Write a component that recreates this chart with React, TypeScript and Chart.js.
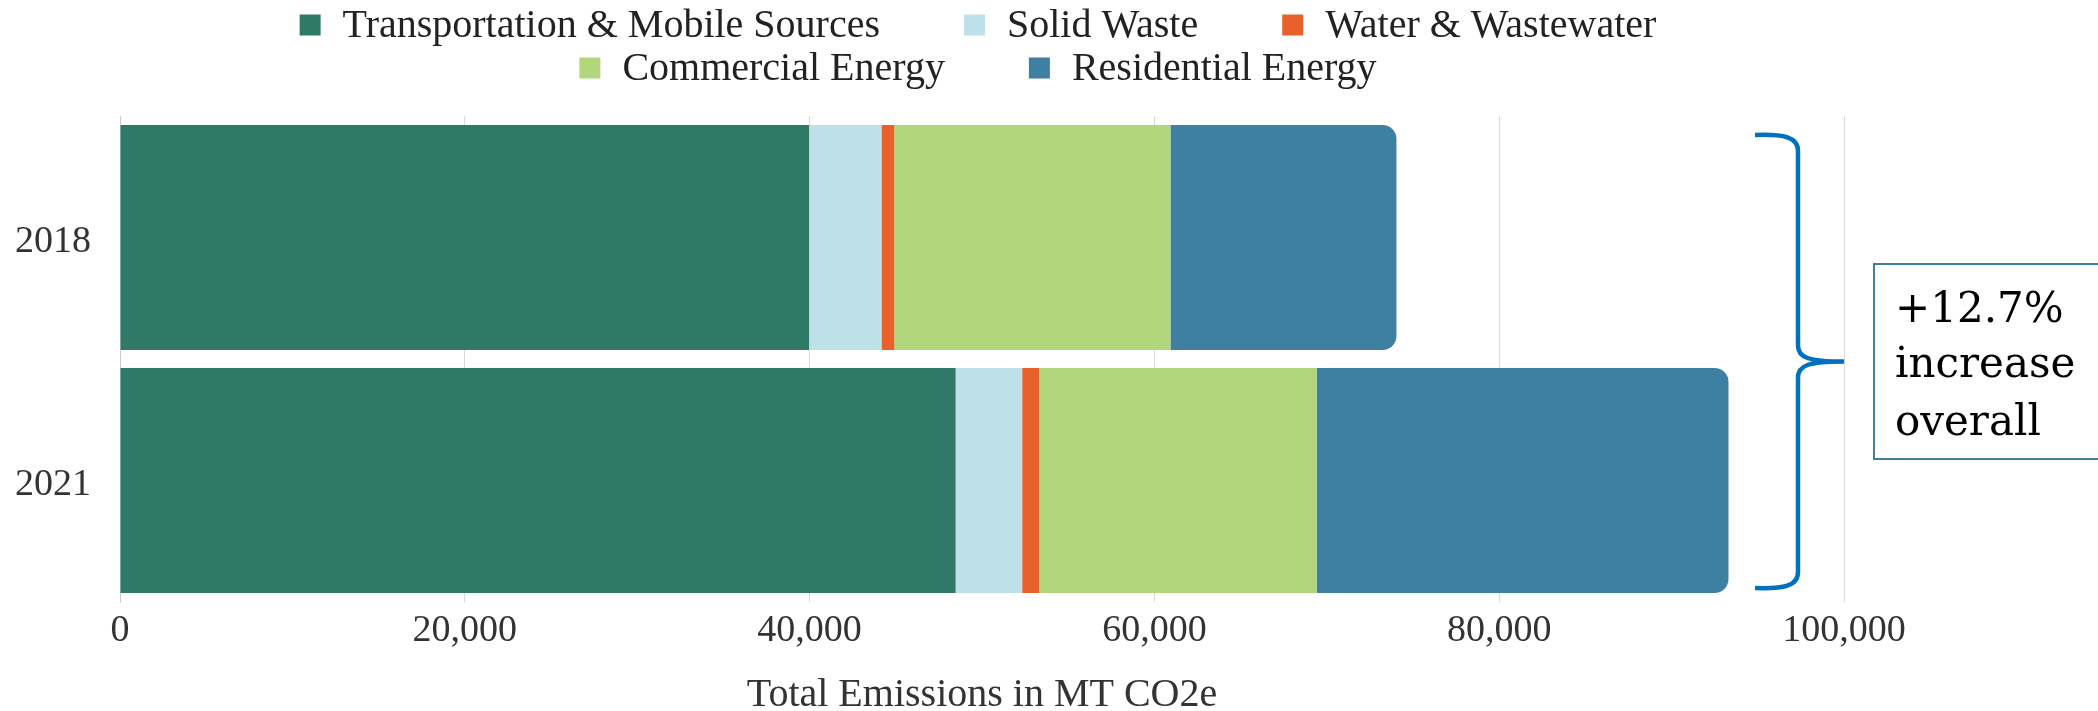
import React, { useEffect, useRef } from "react";
import { Chart, registerables } from "chart.js";

Chart.register(...registerables);

// ---- data ----
const categories = ["2018", "2021"];
const seriesNames = [
  "Transportation & Mobile Sources",
  "Solid Waste",
  "Water & Wastewater",
  "Commercial Energy",
  "Residential Energy",
];
const transportation = [39970, 48470];
const solidWaste = [4200, 3860];
const waterWastewater = [740, 990];
const commercialEnergy = [16020, 16090];
const residentialEnergy = [13110, 23890];
const xTickValues = [0, 20000, 40000, 60000, 80000, 100000];
const axisTitle = "Total Emissions in MT CO2e";
const calloutLines = ["+12.7%", "increase", "overall"];
const legendRows = [[0, 1, 2], [3, 4]];

// ---- styles ----
const seriesColors = ["#2e7a66", "#bde0e9", "#e8612b", "#b1d67b", "#3d80a1"];
const SERIF = "'Liberation Serif', 'Times New Roman', serif";

const legendPlugin = {
  id: "customLegend",
  afterDraw(chart: any) {
    const { ctx, chartArea } = chart;
    const box = 21;
    const gapText = 22;
    const gapItem = 84;
    const rowY = [25, 68];
    const centerX = (chartArea.left + chartArea.right) / 2 - 4;
    ctx.save();
    ctx.font = `40px ${SERIF}`;
    ctx.textBaseline = "middle";
    ctx.textAlign = "left";
    legendRows.forEach((row, r) => {
      const widths = row.map(
        (i) => box + gapText + ctx.measureText(chart.data.datasets[i].label).width
      );
      const total = widths.reduce((a: number, b: number) => a + b, 0) + gapItem * (row.length - 1);
      let x = centerX - total / 2;
      row.forEach((i, k) => {
        const ds = chart.data.datasets[i];
        ctx.fillStyle = ds.backgroundColor;
        ctx.fillRect(x, rowY[r] - box / 2, box, box);
        ctx.fillStyle = "#222222";
        ctx.fillText(ds.label, x + box + gapText, rowY[r] + 1);
        x += widths[k] + gapItem;
      });
    });
    ctx.restore();
  },
};

const calloutPlugin = {
  id: "callout",
  afterDraw(chart: any) {
    const { ctx, chartArea } = chart;
    const r = chartArea.right;
    const top = chartArea.top + 19;
    const bottom = chartArea.bottom - 14;
    const mid = (top + bottom) / 2;
    const xv = r - 46;
    const xl = r - 89;
    ctx.save();
    ctx.strokeStyle = "#0070c0";
    ctx.lineWidth = 4.5;
    ctx.lineCap = "butt";
    ctx.beginPath();
    ctx.moveTo(xl, top);
    ctx.bezierCurveTo(xv - 14, top - 1, xv, top + 2, xv, top + 16);
    ctx.lineTo(xv, mid - 16);
    ctx.bezierCurveTo(xv, mid - 4, xv + 10, mid, r, mid);
    ctx.moveTo(r, mid);
    ctx.bezierCurveTo(xv + 10, mid, xv, mid + 4, xv, mid + 16);
    ctx.lineTo(xv, bottom - 16);
    ctx.bezierCurveTo(xv, bottom - 2, xv - 14, bottom + 1, xl, bottom);
    ctx.stroke();

    ctx.strokeStyle = "#3f7fa0";
    ctx.lineWidth = 2;
    ctx.strokeRect(r + 30, mid - 97.5, 320, 195);

    ctx.fillStyle = "#000000";
    ctx.font = "42px 'DejaVu Serif', serif";
    ctx.textBaseline = "alphabetic";
    ctx.textAlign = "left";
    const baselines = [mid - 40, mid + 15, mid + 73];
    calloutLines.forEach((t, i) => ctx.fillText(t, r + 51, baselines[i]));
    ctx.restore();
  },
};

export default function App() {
  const canvasRef = useRef<HTMLCanvasElement | null>(null);

  useEffect(() => {
    document.body.style.margin = "0";
    const canvas = canvasRef.current;
    if (!canvas) return;
    const seriesData = [transportation, solidWaste, waterWastewater, commercialEnergy, residentialEnergy];
    const chart = new Chart(canvas, {
      type: "bar",
      data: {
        labels: categories,
        datasets: seriesNames.map((name, i) => ({
          label: name,
          data: seriesData[i],
          backgroundColor: seriesColors[i],
          borderWidth: 0,
          borderRadius: i === seriesNames.length - 1 ? 14 : 0,
          barPercentage: 0.926,
          categoryPercentage: 1.0,
        })),
      },
      options: {
        animation: false,
        responsive: false,
        devicePixelRatio: 1,
        indexAxis: "y",
        layout: { padding: { top: 116, right: 254, left: 0, bottom: 0 } },
        plugins: {
          legend: { display: false },
          tooltip: { enabled: false },
        },
        scales: {
          x: {
            stacked: true,
            min: 0,
            max: 100000,
            afterBuildTicks: (scale: any) => {
              scale.ticks = xTickValues.map((v) => ({ value: v }));
            },
            afterFit: (scale: any) => {
              scale.height = 109;
            },
            ticks: {
              font: { family: SERIF, size: 38 },
              color: "#333333",
              padding: 6,
              maxRotation: 0,
              callback: (v: any) => Number(v).toLocaleString("en-US"),
            },
            grid: { color: "#d9d9d9", lineWidth: 1, drawTicks: false },
            border: { display: false },
            title: {
              display: true,
              text: axisTitle,
              color: "#333333",
              font: { family: SERIF, size: 40, lineHeight: 0.8 },
              padding: { top: 0, bottom: 0 },
            },
          },
          y: {
            stacked: true,
            afterFit: (scale: any) => {
              scale.width = 120;
            },
            ticks: {
              font: { family: SERIF, size: 38 },
              color: "#333333",
              padding: 29,
              labelOffset: 5,
            },
            grid: { display: true, drawOnChartArea: false, drawTicks: false },
            border: { display: true, color: "#cccccc", width: 1 },
          },
        },
      },
      plugins: [legendPlugin, calloutPlugin],
    });
    return () => chart.destroy();
  }, []);

  return (
    <div style={{ width: 2098, height: 711 }}>
      <canvas ref={canvasRef} width={2098} height={711} style={{ display: "block", width: 2098, height: 711 }} />
    </div>
  );
}
